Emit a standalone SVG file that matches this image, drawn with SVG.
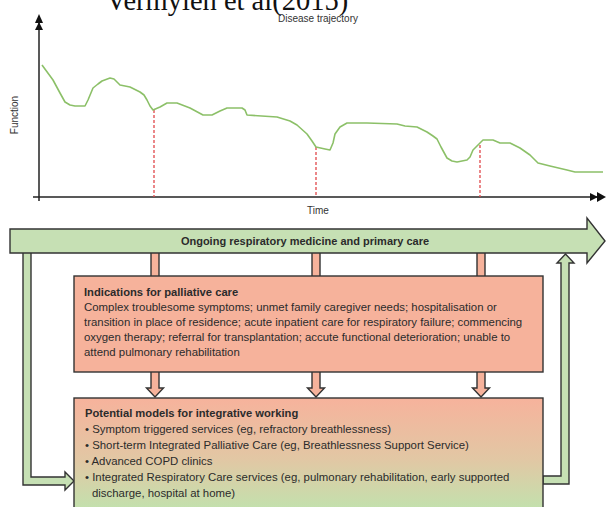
<svg xmlns="http://www.w3.org/2000/svg" width="606" height="507" viewBox="0 0 606 507">
  <style>
    .lbl { font-family: "Liberation Sans", Arial, sans-serif; font-size: 10px; fill: #333; }
    .body { font-family: "Liberation Sans", Arial, sans-serif; font-size: 11.4px; fill: #2b2b2b; }
    .head { font-family: "Liberation Sans", Arial, sans-serif; font-size: 11.2px; font-weight: bold; fill: #2b2b2b; }
    .axis { stroke: #222; stroke-width: 1.5; fill: none; }
    .mark { stroke: #e0484a; stroke-width: 1.3; stroke-dasharray: 3 2; fill: none; }
    .curve { stroke: #8cc068; stroke-width: 1.6; fill: none; stroke-linejoin: round; }
    .gbox { fill: #c6e0b4; stroke: #333; stroke-width: 1.4; stroke-linejoin: miter; }
    .pbox { fill: #f6b29b; stroke: #333; stroke-width: 1.4; }
  </style>
  <defs>
    <marker id="tri" viewBox="0 0 10 10" refX="10" refY="5" markerWidth="8" markerHeight="8" markerUnits="userSpaceOnUse" orient="auto">
      <path d="M0,0 L10,5 L0,10 z" fill="#111"/>
    </marker>
    <linearGradient id="fade" gradientUnits="userSpaceOnUse" x1="0" y1="400" x2="0" y2="507">
      <stop offset="0" stop-color="#f6b39c"/>
      <stop offset="0.55" stop-color="#e2c7a4"/>
      <stop offset="1" stop-color="#c4e0ad"/>
    </linearGradient>
  </defs>

  <rect width="606" height="507" fill="#fff"/>

  <!-- caption, partly above the top edge -->
  <text id="caption" x="106" y="10" font-family="'Liberation Serif', 'Times New Roman', serif" font-size="28.5" fill="#111">Vermylen et al(2015)</text>

  <!-- disease trajectory chart -->
  <g id="chart">
    <text class="lbl" x="318" y="22" text-anchor="middle">Disease trajectory</text>
    <path class="axis" d="M39,201 V22" marker-end="url(#tri)"/>
    <path class="axis" d="M33,197 H598" marker-end="url(#tri)"/>
    <path d="M39,14 L35,23 L43,23 z" fill="#111"/>
    <path d="M606,197 L597,192 L597,202 z" fill="#111"/>
    <text class="lbl" transform="translate(18,115) rotate(-90)" text-anchor="middle">Function</text>
    <text class="lbl" x="318" y="214" text-anchor="middle">Time</text>
    <path class="mark" d="M154,110 V197 M316,147 V197 M480,145 V197"/>
    <path class="curve" d="M42,65 L53,80 L60,93 L65,102 L70,105 L75,106 L85,106 L88,100 L93,88 L98,84 L102,81 L110,78 L114,79 L117,82 L120,85 L130,87 L140,92 L144,95 L147,100 L150,106 L153,110 L160,107 L167,103 L177,103 L190,108 L203,115 L212,115 L220,111 L227,108 L242,108 L245,110 L247,115 L277,117 L290,121 L297,125 L307,134 L312,141 L316,147 L325,149 L330,150 L333,143 L335,134 L340,127 L347,123 L367,123 L397,124 L405,126 L417,127 L427,132 L433,136 L437,139 L441,147 L447,158 L452,161 L457,162 L467,160 L470,157 L473,150 L478,145 L483,140 L493,140 L500,143 L510,143 L520,148 L530,155 L538,163 L550,166 L567,170 L575,172 L603,172"/>
  </g>

  <!-- connectors -->
  <g id="connectors">
    <!-- links from the care bar down into the indications box -->
    <rect class="pbox" x="151" y="252" width="8" height="25"/>
    <rect class="pbox" x="312" y="252" width="8" height="25"/>
    <rect class="pbox" x="477" y="252" width="8" height="25"/>
    <!-- arrows from indications to integrative models -->
    <path class="pbox" d="M151,371 V388 H146.5 L155,397 L163.5,388 H159 V371 z"/>
    <path class="pbox" d="M312,371 V388 H307.5 L316,397 L324.5,388 H320 V371 z"/>
    <path class="pbox" d="M477,371 V388 H472.5 L481,397 L489.5,388 H485 V371 z"/>
    <!-- loop from the care bar into the models box -->
    <path class="gbox" d="M23,252 V485 H65 V490 L74,481 L65,472 V477 H31 V252 z"/>
    <!-- loop from the models box back up to the care bar -->
    <path class="gbox" d="M543,476 H561 V263 H557 L565.5,254 L574,263 H569 V484 H543 z"/>
  </g>

  <g id="ongoing-care">
    <path class="gbox" d="M10,229 H587 V218 L605,241 L587,263 V253 H10 z"/>
    <text x="305" y="245" text-anchor="middle" font-family="'Liberation Sans', Arial, sans-serif" font-size="11" font-weight="bold" fill="#2b2b2b">Ongoing respiratory medicine and primary care</text>
  </g>

  <g id="indications">
    <rect class="pbox" x="74" y="276" width="469" height="96"/>
    <text class="head" x="84" y="296">Indications for palliative care</text>
    <text class="body" x="84" y="311">Complex troublesome symptoms; unmet family caregiver needs; hospitalisation or</text>
    <text class="body" x="84" y="326">transition in place of residence; acute inpatient care for respiratory failure; commencing</text>
    <text class="body" x="84" y="341">oxygen therapy; referral for transplantation; accute functional deterioration; unable to</text>
    <text class="body" x="84" y="356">attend pulmonary rehabilitation</text>
  </g>

  <g id="integrative-models">
    <rect x="74" y="398" width="469" height="130" fill="url(#fade)" stroke="#333" stroke-width="1.4"/>
    <text class="head" x="85" y="417">Potential models for integrative working</text>
    <text class="body" x="85" y="433">• Symptom triggered services (eg, refractory breathlessness)</text>
    <text class="body" x="85" y="449">• Short-term Integrated Palliative Care (eg, Breathlessness Support Service)</text>
    <text class="body" x="85" y="465">• Advanced COPD clinics</text>
    <text class="body" x="85" y="481">• Integrated Respiratory Care services (eg, pulmonary rehabilitation, early supported</text>
    <text class="body" x="92" y="497">discharge, hospital at home)</text>
  </g>
</svg>
